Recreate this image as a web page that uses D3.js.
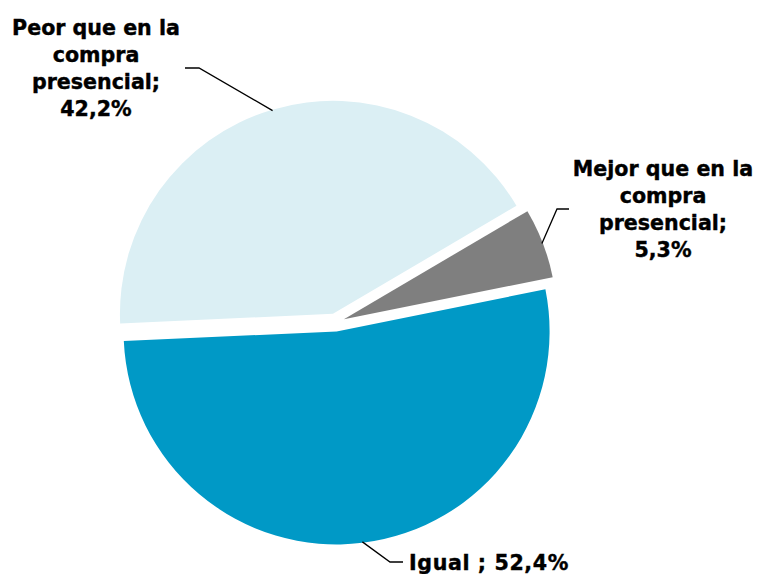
<!DOCTYPE html>
<html>
<head>
<meta charset="utf-8">
<script src="https://cdn.jsdelivr.net/npm/d3@7"></script>
<style>
  body { margin: 0; background: #fff; }
  text { font-family: "DejaVu Sans", Verdana, sans-serif; font-weight: bold; font-size: 20.6px; fill: #000; stroke: #000; stroke-width: 0.4px; }
</style>
</head>
<body>
<div id="chart"></div>
<script>
var categories = ["Mejor que en la compra presencial", "Igual", "Peor que en la compra presencial"];
var values = [5.3, 52.4, 42.2];
var valueLabels = ["5,3%", "52,4%", "42,2%"];
var colors = ["#7f7f7f", "#0099c6", "#dbeff4"];

// label text lines, placement and leader elbows
var labelLines = [
    ["Mejor que en la", "compra", "presencial;", "5,3%"],
    ["Igual ; 52,4%"],
    ["Peor que en la", "compra", "presencial;", "42,2%"]
];
var labelPos = [[663, 176], [489, 570], [96, 35]];
var labelSpacing = [0, 0.6, 0];
var elbows = [[[557, 209], [569, 209]], [[390, 562], [403, 562]], [[199, 68], [185, 68]]];

var width = 757, height = 574;
var cx = 335.5, cy = 322.5, r = 213, explode = 9;

var svg = d3.select("#chart").append("svg")
    .attr("width", width)
    .attr("height", height);

var startA = 59.5 * Math.PI / 180;
var pie = d3.pie().sort(null).startAngle(startA).endAngle(startA + 2 * Math.PI);
var arcs = pie(values);

var arc = d3.arc().innerRadius(0).outerRadius(r);

var g = svg.append("g").attr("transform", "translate(" + cx + "," + cy + ")");

arcs.forEach(function(d, i) {
    var mid = (d.startAngle + d.endAngle) / 2;
    var ox = Math.sin(mid) * explode, oy = -Math.cos(mid) * explode;
    var sg = g.append("g").attr("transform", "translate(" + ox + "," + oy + ")");
    sg.append("path")
        .attr("d", arc(d))
        .attr("fill", colors[i]);

    // leader line
    var sx = cx + ox + Math.sin(mid) * (r - 1);
    var sy = cy + oy - Math.cos(mid) * (r - 1);
    var pts = [[sx, sy]].concat(elbows[i]);
    svg.append("path")
        .attr("d", d3.line()(pts))
        .attr("fill", "none")
        .attr("stroke", "#000")
        .attr("stroke-width", 1.3);

    var t = svg.append("text")
        .attr("text-anchor", "middle")
        .attr("letter-spacing", labelSpacing[i])
        .attr("x", labelPos[i][0])
        .attr("y", labelPos[i][1]);
    labelLines[i].forEach(function(line, j) {
        t.append("tspan")
            .attr("x", labelPos[i][0])
            .attr("dy", j == 0 ? 0 : 27)
            .text(line);
    });
});
</script>
</body>
</html>
